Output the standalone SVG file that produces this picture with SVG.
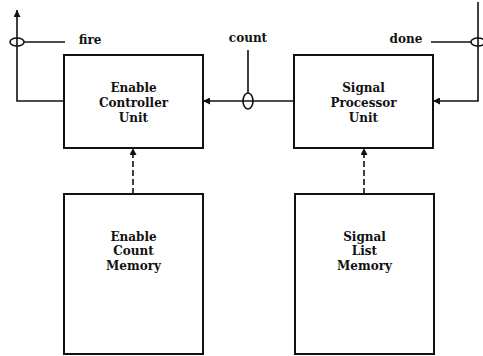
<svg xmlns="http://www.w3.org/2000/svg" width="483" height="356" viewBox="0 0 483 356">
<style>
.box{fill:#fff;stroke:#111;stroke-width:2}
.lbl{font-family:"DejaVu Serif","Liberation Serif",serif;font-weight:bold;font-size:12px;fill:#111;text-anchor:middle}
.ln{fill:none;stroke:#111;stroke-width:1.6}
.dash{fill:none;stroke:#111;stroke-width:1.6;stroke-dasharray:6 3}
.hook{fill:none;stroke:#111;stroke-width:1.6}
</style>
<defs>
<marker id="ah" viewBox="0 0 10 10" refX="10" refY="5" markerWidth="7" markerHeight="7" orient="auto" markerUnits="userSpaceOnUse">
<path d="M0,0 L10,5 L0,10 Z" fill="#111"/>
</marker>
</defs>
<rect width="483" height="356" fill="#fff"/>
<g id="enable-controller-unit">
<rect class="box" x="64" y="55" width="139" height="93"/>
<text class="lbl" x="133.5" y="92">Enable</text>
<text class="lbl" x="133.5" y="107">Controller</text>
<text class="lbl" x="133.5" y="122">Unit</text>
</g>
<g id="signal-processor-unit">
<rect class="box" x="294" y="55" width="139" height="93"/>
<text class="lbl" x="363.5" y="92">Signal</text>
<text class="lbl" x="363.5" y="107">Processor</text>
<text class="lbl" x="363.5" y="122">Unit</text>
</g>
<g id="enable-count-memory">
<rect class="box" x="64" y="194" width="139" height="160"/>
<text class="lbl" x="133.5" y="241">Enable</text>
<text class="lbl" x="133.5" y="255">Count</text>
<text class="lbl" x="133.5" y="270">Memory</text>
</g>
<g id="signal-list-memory">
<rect class="box" x="295" y="194" width="139" height="160"/>
<text class="lbl" x="364.5" y="241">Signal</text>
<text class="lbl" x="364.5" y="255">List</text>
<text class="lbl" x="364.5" y="270">Memory</text>
</g>
<g id="labels">
<text class="lbl" x="90" y="44">fire</text>
<text class="lbl" x="248" y="42">count</text>
<text class="lbl" x="406" y="43">done</text>
</g>
<g id="connectors">
<path class="ln" d="M64,101 H17 V10" marker-end="url(#ah)"/>
<ellipse class="hook" cx="17" cy="42" rx="7" ry="4"/>
<line class="ln" x1="24" y1="42" x2="65" y2="42"/>
<path class="ln" d="M294,101 H203" marker-end="url(#ah)"/>
<line class="ln" x1="248" y1="50" x2="248" y2="93"/>
<ellipse class="hook" cx="248" cy="101" rx="5" ry="8"/>
<path class="ln" d="M478,2 V101 H433" marker-end="url(#ah)"/>
<line class="ln" x1="431" y1="42" x2="471" y2="42"/>
<ellipse class="hook" cx="478" cy="42" rx="7" ry="4"/>
<path class="dash" d="M133,194 V148" marker-end="url(#ah)"/>
<path class="dash" d="M364,194 V148" marker-end="url(#ah)"/>
</g>
</svg>
